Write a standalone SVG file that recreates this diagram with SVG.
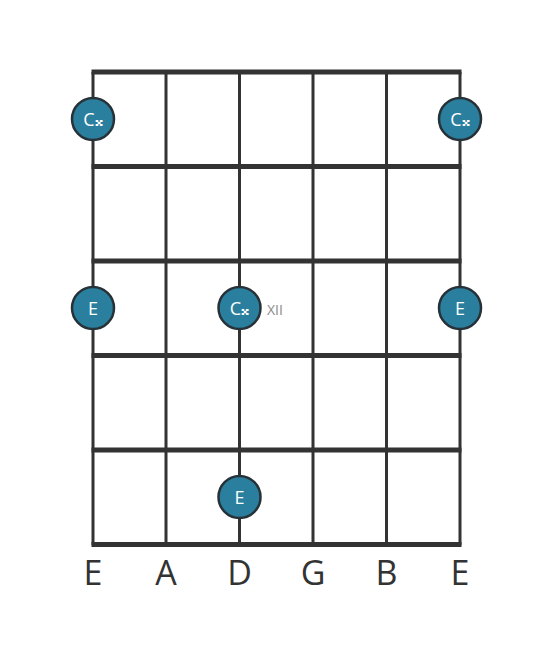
<svg xmlns="http://www.w3.org/2000/svg" width="553" height="656" viewBox="0 0 553 656">
<style>
.s{stroke:#333;stroke-width:3;fill:none}
.f{stroke:#333;stroke-width:5;fill:none}
.n circle{fill:#2a7f9e;stroke:#263238;stroke-width:2.5}
.n text{fill:#fff;font-family:"Open Sans","Noto Sans",sans-serif;font-size:18px;text-anchor:middle;dominant-baseline:central}
.l{fill:#333;font-family:"Open Sans","Noto Sans",sans-serif;font-size:34px;text-anchor:middle}
.x{fill:#8a8a8a;font-family:"Open Sans","Noto Sans",sans-serif;font-size:14px;dominant-baseline:central}
</style>
<rect width="553" height="656" fill="#fff"/>
<g id="connectors">
<line class="s" x1="93" y1="72" x2="93" y2="545"/>
<line class="s" x1="166" y1="72" x2="166" y2="545"/>
<line class="s" x1="239.5" y1="72" x2="239.5" y2="545"/>
<line class="s" x1="313" y1="72" x2="313" y2="545"/>
<line class="s" x1="386.5" y1="72" x2="386.5" y2="545"/>
<line class="s" x1="460" y1="72" x2="460" y2="545"/>
<line class="f" x1="91.5" y1="72" x2="461.5" y2="72"/>
<line class="f" x1="91.5" y1="166.5" x2="461.5" y2="166.5"/>
<line class="f" x1="91.5" y1="261" x2="461.5" y2="261"/>
<line class="f" x1="91.5" y1="355.5" x2="461.5" y2="355.5"/>
<line class="f" x1="91.5" y1="450" x2="461.5" y2="450"/>
<line class="f" x1="91.5" y1="544.5" x2="461.5" y2="544.5"/>
</g>
<g id="n1" class="n"><circle cx="93" cy="119" r="21"/><text x="93" y="119">C𝄪</text></g>
<g id="n2" class="n"><circle cx="460" cy="119" r="21"/><text x="460" y="119">C𝄪</text></g>
<g id="n3" class="n"><circle cx="93" cy="308" r="21"/><text x="93" y="308">E</text></g>
<g id="n4" class="n"><circle cx="239.5" cy="308" r="21"/><text x="239.5" y="308">C𝄪</text></g>
<g id="n5" class="n"><circle cx="460" cy="308" r="21"/><text x="460" y="308">E</text></g>
<g id="n6" class="n"><circle cx="239.5" cy="497" r="21"/><text x="239.5" y="497">E</text></g>
<text class="x" x="267" y="309">XII</text>
<g id="labels">
<text class="l" x="93" y="585">E</text>
<text class="l" x="166" y="585">A</text>
<text class="l" x="239.5" y="585">D</text>
<text class="l" x="313" y="585">G</text>
<text class="l" x="386.5" y="585">B</text>
<text class="l" x="460" y="585">E</text>
</g>
</svg>
